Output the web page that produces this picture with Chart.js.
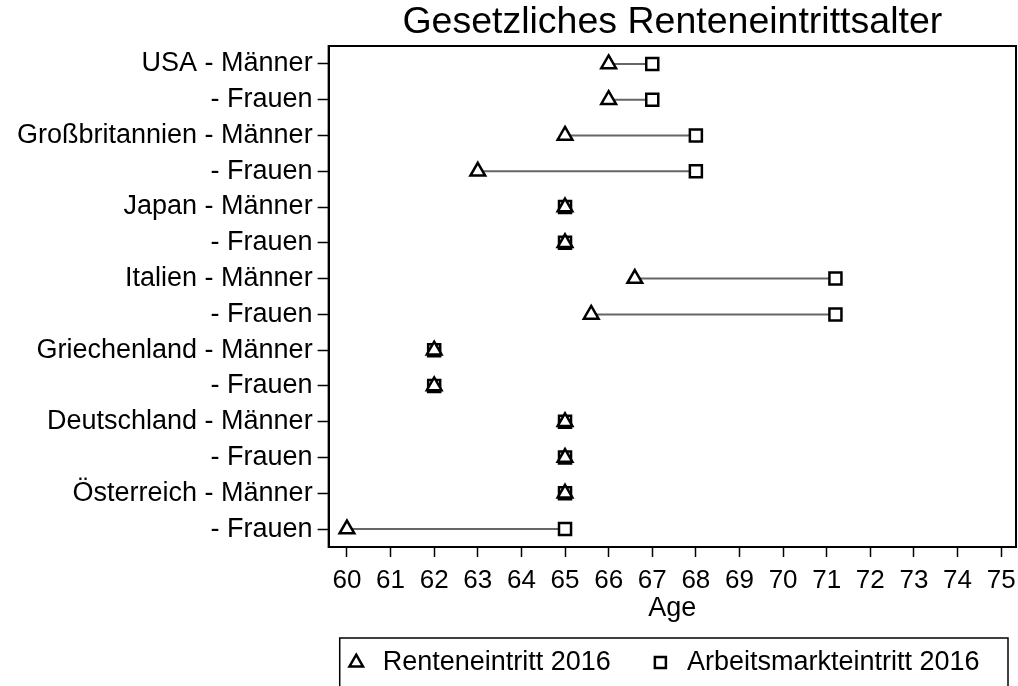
<!DOCTYPE html>
<html>
<head>
<meta charset="utf-8">
<script src="https://cdn.jsdelivr.net/npm/chart.js@4"></script>
<style>
  html, body { margin: 0; padding: 0; background: #fff; overflow: hidden; }
  #wrap { width: 1018px; height: 686px; }
</style>
</head>
<body>
<div id="wrap"><canvas id="chart" width="1018" height="686"></canvas></div>
<script>
// rows, top to bottom
const rowLabels = [
  'USA - Männer', '- Frauen',
  'Großbritannien - Männer', '- Frauen',
  'Japan - Männer', '- Frauen',
  'Italien - Männer', '- Frauen',
  'Griechenland - Männer', '- Frauen',
  'Deutschland - Männer', '- Frauen',
  'Österreich - Männer', '- Frauen'
];
const renteneintritt = [66, 66, 65, 63, 65, 65, 66.6, 65.6, 62, 62, 65, 65, 65, 60];
const arbeitsmarkt = [67, 67, 68, 68, 65, 65, 71.2, 71.2, 62, 62, 65, 65, 65, 65];
const xTickValues = [60, 61, 62, 63, 64, 65, 66, 67, 68, 69, 70, 71, 72, 73, 74, 75];

const FONT = 'Liberation Sans, Arial, sans-serif';

// connector segments, broken by null points
const connectors = [];
rowLabels.forEach((_, i) => {
  connectors.push({ x: renteneintritt[i], y: i });
  connectors.push({ x: arbeitsmarkt[i], y: i });
  connectors.push({ x: null, y: null });
});

const framePlugin = {
  id: 'frame',
  afterDraw(chart) {
    const { ctx, chartArea, legend } = chart;
    ctx.save();
    ctx.strokeStyle = '#000';
    ctx.lineWidth = 2;
    ctx.strokeRect(chartArea.left, chartArea.top, chartArea.right - chartArea.left, chartArea.bottom - chartArea.top);
    // box around the legend (runs off the bottom like the original)
    const hb = legend.legendHitBoxes[0];
    ctx.lineWidth = 1.5;
    ctx.strokeRect(hb.left - 3.5, hb.top - 11, chartArea.right - 8 - (hb.left - 3.5), 80);
    ctx.restore();
  }
};

new Chart(document.getElementById('chart'), {
  type: 'scatter',
  data: {
    datasets: [
      {
        label: 'Arbeitsmarkteintritt 2016',
        data: rowLabels.map((_, i) => ({ x: arbeitsmarkt[i], y: i })),
        pointStyle: 'rect',
        pointRadius: 8.5,
        pointBorderWidth: 2.5,
        borderColor: '#000',
        backgroundColor: '#fff',
        order: 2
      },
      {
        label: 'Renteneintritt 2016',
        data: rowLabels.map((_, i) => ({ x: renteneintritt[i], y: i })),
        pointStyle: 'triangle',
        pointRadius: 8.5,
        pointBorderWidth: 2.5,
        borderColor: '#000',
        backgroundColor: '#fff',
        order: 1
      },
      {
        label: 'connector',
        type: 'line',
        data: connectors,
        borderColor: '#666',
        borderWidth: 2,
        pointRadius: 0,
        spanGaps: false,
        order: 3
      }
    ]
  },
  options: {
    responsive: false,
    animation: false,
    layout: { autoPadding: false, padding: { left: 12, right: 2, top: 0, bottom: 0 } },
    scales: {
      x: {
        type: 'linear',
        min: 59.58,
        max: 75.34,
        afterBuildTicks: axis => { axis.ticks = xTickValues.map(v => ({ value: v })); },
        ticks: { color: '#000', font: { family: FONT, size: 26, lineHeight: '48px' }, padding: 0, maxRotation: 0, autoSkip: false },
        grid: { drawOnChartArea: false, tickLength: 10, tickColor: '#000', tickWidth: 1.5 },
        border: { color: '#000', width: 2 },
        title: { display: true, text: 'Age', color: '#000', font: { family: FONT, size: 27, lineHeight: '32.4px' }, padding: { top: -12.2, bottom: -12.7 } }
      },
      // top axis only carries the title, so it is centred over the plot region
      x2: {
        type: 'linear',
        position: 'top',
        min: 59.58,
        max: 75.34,
        ticks: { display: false },
        grid: { display: false, drawTicks: false },
        border: { display: false },
        title: {
          display: true,
          text: 'Gesetzliches Renteneintrittsalter',
          color: '#000',
          font: { family: FONT, size: 37.5, lineHeight: '45px' },
          padding: { top: 0, bottom: 1 }
        }
      },
      y: {
        type: 'linear',
        reverse: true,
        min: -0.5,
        max: 13.5,
        afterBuildTicks: axis => { axis.ticks = rowLabels.map((_, i) => ({ value: i })); },
        ticks: {
          color: '#000', font: { family: FONT, size: 27 }, padding: 5, autoSkip: false,
          callback: v => rowLabels[v]
        },
        grid: { drawOnChartArea: false, tickLength: 11, tickColor: '#000', tickWidth: 1.5 },
        border: { color: '#000', width: 2 }
      }
    },
    plugins: {
      title: { display: false },
      legend: {
        position: 'bottom',
        align: 'end',
        labels: {
          filter: item => item.text !== 'connector',
          usePointStyle: true,
          boxWidth: 26,
          boxHeight: 11,
          color: '#000',
          font: { family: FONT, size: 27 },
          padding: 36.5
        }
      },
      tooltip: { enabled: false }
    }
  },
  plugins: [framePlugin]
});
</script>
</body>
</html>
